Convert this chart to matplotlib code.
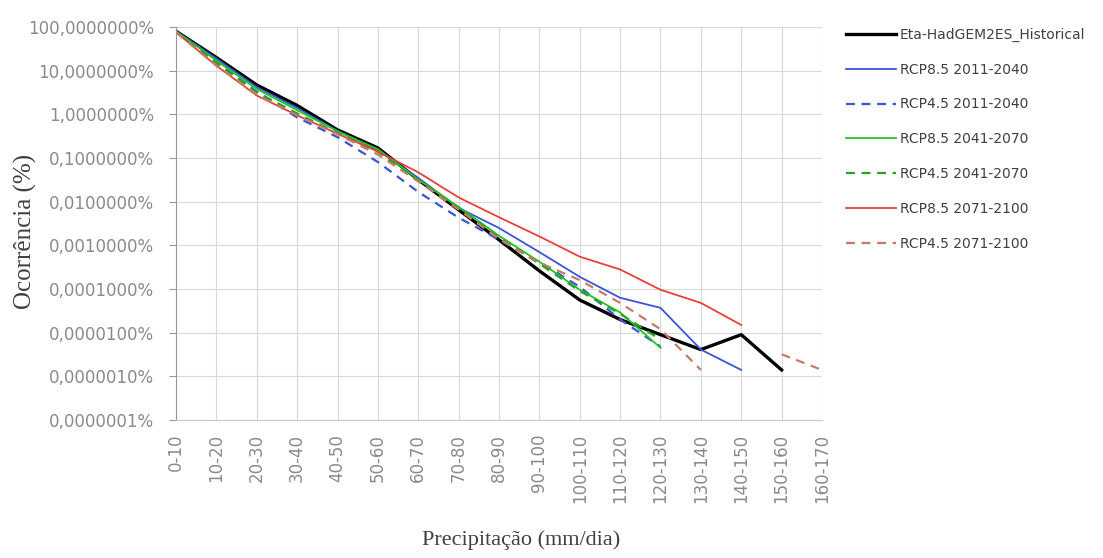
import numpy as np
import matplotlib
matplotlib.use('Agg')
import matplotlib.pyplot as plt
from matplotlib.ticker import FixedLocator, FuncFormatter

nan = np.nan

# classes de precipitacao (mm/dia)
categorias = ['0-10', '10-20', '20-30', '30-40', '40-50', '50-60', '60-70', '70-80', '80-90',
              '90-100', '100-110', '110-120', '120-130', '130-140', '140-150', '150-160', '160-170']

# ocorrencia (%) por classe
historico = [80, 20, 4.7, 1.6, 0.44, 0.17, 0.032, 0.0065, 0.00134, 0.00026, 0.000056,
             0.00002, 0.000009, 0.0000041, 0.000009, 0.0000014, nan]
rcp85_2011 = [80, 19, 4.2, 1.4, 0.42, 0.15, 0.035, 0.0072, 0.0025, 0.0007, 0.00019,
              0.000063, 0.000037, 0.0000041, 0.0000014, nan, nan]
rcp45_2011 = [78, 16, 3.3, 0.85, 0.3, 0.081, 0.0167, 0.0043, 0.00135, 0.00042, 0.000112,
              0.00002, 0.0000048, nan, nan, nan, nan]
rcp85_2041 = [80, 17, 3.8, 1.25, 0.41, 0.16, 0.032, 0.0076, 0.00166, 0.00042, 0.000096,
              0.000029, 0.0000045, nan, nan, nan, nan]
rcp45_2041 = [78, 15, 3.2, 1.05, 0.37, 0.14, 0.03, 0.007, 0.0015, 0.00038, 0.00009,
              0.000027, 0.0000069, nan, nan, nan, nan]
rcp85_2071 = [76, 13, 2.7, 0.95, 0.36, 0.14, 0.047, 0.0125, 0.0044, 0.0016, 0.00055,
              0.00028, 0.000096, 0.000048, 0.000015, nan, nan]
rcp45_2071 = [76, 13, 2.8, 0.95, 0.35, 0.12, 0.029, 0.0066, 0.0014, 0.0004, 0.00016,
              0.000048, 0.000012, 0.0000014, nan, 0.0000032, 0.0000014]

series = [
    ('Eta-HadGEM2ES_Historical', historico, '#000000', '-', 2.4),
    ('RCP8.5 2011-2040', rcp85_2011, '#3a55d8', '-', 1.3),
    ('RCP4.5 2011-2040', rcp45_2011, '#3a55d8', '--', 1.6),
    ('RCP8.5 2041-2070', rcp85_2041, '#1ec81e', '-', 1.3),
    ('RCP4.5 2041-2070', rcp45_2041, '#2aa02a', '--', 1.6),
    ('RCP8.5 2071-2100', rcp85_2071, '#e8403a', '-', 1.3),
    ('RCP4.5 2071-2100', rcp45_2071, '#c87a62', '--', 1.6),
]

fig = plt.figure(figsize=(11.03, 5.58), dpi=100)
ax = fig.add_axes([176 / 1103, 1 - 420 / 558, (822 - 176) / 1103, (420 - 27) / 558])

x = np.arange(len(categorias))
for nome, vals, cor, estilo, lw in series:
    ax.plot(x, vals, color=cor, linestyle=estilo, linewidth=lw, label=nome,
            dashes=(4, 3) if estilo == '--' else (None, None))

ax.set_yscale('log')
ax.set_ylim(1e-7, 100)
ax.set_xlim(0, len(categorias) - 1)
ax.yaxis.set_major_locator(FixedLocator([10.0 ** k for k in range(-7, 3)]))
ax.yaxis.set_minor_locator(FixedLocator([]))
ax.yaxis.set_major_formatter(FuncFormatter(lambda v, p: ('%.7f%%' % v).replace('.', ',')))
ax.set_xticks(x)
ax.set_xticklabels(categorias, rotation=90)

ax.grid(True, color='#d9d9d9', linewidth=0.8)
ax.set_axisbelow(True)
for s in ['top', 'right']:
    ax.spines[s].set_visible(False)
ax.spines['left'].set_color('#999999')
ax.spines['bottom'].set_color('#c8c8c8')
ax.tick_params(axis='y', length=5, color='#999999', pad=11, labelsize=12, labelcolor='#8a8a8a')
ax.tick_params(axis='x', length=0, pad=10, labelsize=12, labelcolor='#8a8a8a')

fig.text(25 / 1103, 1 - 231 / 558, 'Ocorrência (%)', rotation=90, ha='center', va='center',
         family='Liberation Serif', fontsize=18, color='#404040')
fig.text(521 / 1103, 1 - 540 / 558, 'Precipitação (mm/dia)', ha='center', va='center',
         family='Liberation Serif', fontsize=16, color='#404040')

leg = fig.legend(loc='upper left', bbox_to_anchor=(840 / 1103, 1 - 22 / 558), frameon=False,
                 fontsize=10, handlelength=3.6, handletextpad=0.3, labelspacing=1.5,
                 borderaxespad=0)
for t in leg.get_texts():
    t.set_color('#404040')

fig.savefig('out.png', dpi=100)
